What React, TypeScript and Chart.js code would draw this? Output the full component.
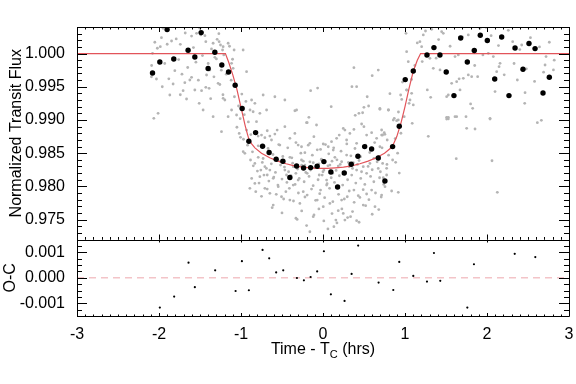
import { useEffect, useRef } from "react";
import { Chart, registerables } from "chart.js";

Chart.register(...registerables);

// ---- data ----
const binTime = [-2.079, -1.990, -1.901, -1.820, -1.645, -1.563, -1.486, -1.401, -1.319, -1.234, -1.152, -1.071, -0.986, -0.904, -0.822, -0.737, -0.657, -0.571, -0.489, -0.404, -0.322, -0.237, -0.151, -0.071, 0.011, 0.096, 0.178, 0.259, 0.344, 0.426, 0.508, 0.593, 0.674, 0.755, 0.849, 0.930, 1.003, 1.101, 1.268, 1.353, 1.426, 1.503, 1.597, 1.679, 1.760, 1.845, 1.918, 2.004, 2.094, 2.179, 2.268, 2.342, 2.439, 2.512, 2.586, 2.683, 2.760];
const binFlux = [0.99708, 0.99873, 1.00361, 0.99919, 1.00050, 0.99949, 1.00316, 0.99774, 1.00020, 0.99828, 0.99723, 0.99523, 0.99172, 0.98679, 0.98810, 0.98604, 0.98509, 0.98408, 0.98378, 0.98133, 0.98307, 0.98277, 0.98283, 0.98303, 0.98373, 0.98217, 0.97991, 0.98202, 0.98333, 0.98453, 0.98599, 0.98563, 0.98428, 0.98081, 0.98599, 0.98905, 0.99608, 0.99738, 0.99979, 1.00090, 0.99979, 0.99723, 0.99367, 1.00235, 0.99873, 1.00045, 1.00276, 1.00196, 0.99617, 1.00250, 0.99367, 1.00084, 0.99764, 1.00151, 1.00075, 0.99407, 0.99643];

const resTime = [-1.990, -1.815, -1.640, -1.563, -1.315, -1.066, -0.989, -0.904, -0.737, -0.656, -0.571, -0.485, -0.318, -0.233, -0.151, -0.071, 0.011, 0.096, 0.263, 0.349, 0.429, 0.678, 0.857, 0.930, 1.101, 1.268, 1.353, 1.430, 1.760, 1.841, 2.338, 2.589];
const resValue = [-0.00117, -0.00074, 0.00059, -0.00037, 0.00029, -0.00052, 0.00065, -0.00049, 0.00109, 0.00076, 0.00021, 0.00029, -0.00001, -0.00010, 0.00003, 0.00025, 0.00104, -0.00065, -0.00091, 0.00015, 0.00126, -0.00019, -0.00048, 0.00062, 0.00007, -0.00015, 0.00097, -0.00012, -0.00117, 0.00053, 0.00094, 0.00081];

const modelTime = [-3.0, -1.19, -1.15, -1.10, -1.05, -1.00, -0.95, -0.92, -0.90, -0.87, -0.83, -0.75, -0.65, -0.55, -0.45, -0.35, -0.25, -0.15, -0.05, 0.05, 0.15, 0.25, 0.35, 0.45, 0.55, 0.65, 0.75, 0.82, 0.86, 0.90, 0.95, 1.00, 1.05, 1.10, 1.15, 1.19, 3.0];
const modelFlux = [1.0, 1.0, 0.9987, 0.9968, 0.9946, 0.9919, 0.9892, 0.9878, 0.9870, 0.9864, 0.9858, 0.9850, 0.9843, 0.9838, 0.9834, 0.9831, 0.9829, 0.9828, 0.9827, 0.9827, 0.9828, 0.9829, 0.9831, 0.9834, 0.9838, 0.9843, 0.9850, 0.9857, 0.9864, 0.9875, 0.9895, 0.9920, 0.9948, 0.9973, 0.9990, 1.0, 1.0];

// unbinned photometry (grey points)
const rawTime = [
  -1.950, -2.051, -1.970, -1.984, -1.847, -1.740, -1.603, -1.542, -2.079, -2.092,
  -2.031, -1.807, -1.828, -1.868, -1.685, -1.603, -1.624, -1.706, -1.664, -1.563,
  -2.063, -2.011, -1.502, -1.490, -1.429, -1.340, -1.291, -1.267, -1.250, -1.218,
  -1.319, -1.225, -1.157, -1.103, -1.084, -0.974, -1.115, -1.096, -1.380, -1.420,
  -1.279, -1.258, -0.932, -1.429, -1.389, -1.481, -1.197, -1.218, -1.462, -1.340,
  -1.115, -1.157, -1.054, -0.871, -0.831, -0.730, -0.688, -0.587, -0.852, -0.770,
  -0.465, -0.322,
  0.377, 0.674, 0.600, -0.151, -0.066, 0.353, 0.410, 0.539, 0.816, -0.343,
  0.100, 0.499, 0.556, 0.694, 0.800, 0.438, 0.393, 0.483, -0.172, -0.193,
  -1.238, -1.022, -1.006, -0.973, -0.953, -0.932, -0.811, -0.791, -0.750, -0.709,
  -0.680, -0.648, -0.628, -0.587, -0.559, -0.526, -0.465, -0.404, -0.343, -0.303,
  -0.262, -0.221, -0.201, -0.160, -0.111, -0.079, -0.030, 0.003, 0.064, 0.104,
  0.125, 0.166, 0.198, 0.247, 0.267, 0.288, 0.328, 0.377, 0.410, 0.471,
  0.499, 0.532, 0.593, 0.654, 0.715, 0.747,
  -0.884, -0.831, -0.790, -0.758, -0.709, -0.680, -0.648, -0.607, -0.559, -0.518,
  -0.465, -0.445, -0.404, -0.363, -0.331, -0.303, -0.262, -0.221, -0.193, -0.152,
  -0.119, -0.087, -0.046, -0.017, 0.011, 0.044, 0.084, 0.117, 0.145, 0.186,
  0.227, 0.255, 0.288, 0.320, 0.369, 0.410, 0.458, 0.491, 0.532, 0.572,
  0.621, 0.674, 0.727, 0.776,
  -0.892, -0.831, -0.770, -0.709, -0.648, -0.607, -0.546, -0.506, -0.453, -0.404,
  -0.363, -0.315, -0.282, -0.241, -0.193, -0.160, -0.119, -0.070, -0.030, 0.003,
  0.044, 0.084, 0.133, 0.157, 0.186, 0.227, 0.247, 0.267, 0.296, 0.336,
  0.377, 0.410, 0.450, 0.491, 0.532, 0.593, 0.634, 0.715, 0.756,
  1.012, 1.223, 1.325, 1.447, 1.467, 1.182, 1.203, 1.020, 1.040, 1.304,
  1.345, 1.427, 1.610, 1.650, 1.772, 1.915, 1.988, 2.016, 2.077, 2.147,
  2.118, 2.159, 2.313, 2.423, 2.370, 2.708, 2.810, 2.720, 1.630, 1.569,
  1.711, 1.772, 1.813, 1.886, 1.272, 1.313, 1.508, 1.528, 1.671, 1.800,
  1.825, 1.744, 1.508, 1.528, 2.037, 2.098, 2.464, 0.869, 0.918, 0.796,
  0.694, 0.947, 1.061, 1.081, 1.020, 1.101, 1.610,
  0.857, 0.898, 0.715, 0.727, 0.755, 0.783, 0.694, 1.088, 1.284, 1.508,
  1.528, 1.630, 1.752, 1.854, 2.037, 2.614, 2.663, 1.625, 2.061, 0.849,
  0.886, 0.776, 0.930, 0.735, 0.837, 0.918, 2.126,
  -0.86, -0.79, -0.73, -0.67, -0.61, -0.54, -0.49, -0.43, -0.38, -0.33,
  -0.27, -0.24, -0.18, -0.13, -0.07, -0.02, 0.03, 0.07, 0.13, 0.17,
  0.22, 0.29, 0.34, 0.39, 0.44, 0.52, 0.57, 0.63, 0.68, 0.72, 0.80,
  -0.85, -0.80, -0.74, -0.69, -0.63, -0.58, -0.52, -0.47, -0.42, -0.37,
  -0.31, -0.26, -0.21, -0.16, -0.10, -0.05, 0.00, 0.06, 0.11, 0.16,
  0.21, 0.27, 0.31, 0.36, 0.42, 0.47, 0.55, 0.60, 0.66, 0.70, 0.78,
  -0.87, -0.78, -0.72, -0.66, -0.60, -0.55, -0.50, -0.44, -0.39, -0.34,
  -0.29, -0.23, -0.17, -0.12, -0.06, -0.01, 0.05, 0.10, 0.14, 0.20,
  0.24, 0.30, 0.35, 0.40, 0.46, 0.51, 0.58, 0.62, 0.69, 0.74,
  -0.82, -0.75, -0.68, -0.57, -0.48, -0.41, -0.36, -0.30, -0.22, -0.14,
  -0.09, -0.04, 0.02, 0.08, 0.12, 0.19, 0.26, 0.32, 0.38, 0.43,
  0.49, 0.56, 0.64, 0.71,
  -0.62, -0.50, -0.33, -0.26, -0.20, -0.11, -0.05, 0.01, 0.06, 0.11,
  0.17, 0.23, 0.30, 0.36, 0.44, 0.52, 0.60, 0.68,
  -1.08, -1.03, -0.99, -0.96, -0.94, -0.91, -1.01, -0.89, -0.97, -0.92, -0.88, -1.05,
  0.88, 0.92, 0.96, 0.99, 1.02, 1.05, 1.08, 0.95, 0.83, 1.12, 0.97, 0.91,
  -2.02, -1.93, -1.90, -1.88, -1.79, -1.76, -1.72, -1.68, -1.65, -1.58,
  -1.55, -1.52, -1.47, -1.44, -1.40, -1.36, -1.33, -1.30, -1.27, -1.24,
  -1.21, -1.18, -1.14, -1.12, -2.09, -1.96, -1.74, -1.51, -1.37, -1.22,
  1.15, 1.21, 1.25, 1.38, 1.41, 1.49, 1.55, 1.66, 1.70, 1.85,
  1.95, 2.05, 2.14, 2.21, 2.26, 2.33, 2.40, 2.48, 2.53, 2.58,
  2.64, 2.69, 2.76, 2.82, 2.46,
];
const rawFlux = [
  1.00380, 1.00170, 1.00239, 1.00103, 1.00189, 1.00139, 1.00264, 1.00305, 1.00004, 0.99651,
  0.99617, 0.99742, 0.99542, 0.99376, 0.99561, 0.99642, 0.99602, 0.99441, 0.99316, 0.99451,
  0.99025, 0.99100, 1.00380, 1.00280, 1.00179, 1.00155, 1.00215, 1.00179, 1.00129, 1.00103,
  0.99944, 1.00054, 1.00155, 0.99914, 1.00054, 1.00054, 0.99853, 0.99778, 0.99752, 0.99677,
  0.99552, 0.99534, 0.99727, 0.99492, 0.99477, 0.99441, 0.99301, 0.99326, 0.99150, 0.99049,
  0.99150, 0.99049, 0.99075, 0.99301, 0.99251, 0.99376, 0.99150, 0.99350, 0.99124, 0.99100,
  0.99301, 0.99150,
  0.99787, 0.99752, 0.99667, 0.99441, 0.99481, 0.99501, 0.99501, 0.99350, 0.99396, 0.99139,
  0.99200, 0.99191, 0.99210, 0.99161, 0.99150, 0.99100, 0.99070, 0.99109, 0.99040, 0.98959,
  0.98823, 0.98798, 0.98738, 0.98522, 0.98497, 0.98848, 0.98974, 0.98758, 0.98773, 0.98733,
  0.98838, 0.98758, 0.98698, 0.98788, 0.98848, 0.98622, 0.98899, 0.98723, 0.98798, 0.98622,
  0.98597, 0.98507, 0.98959, 0.98648, 0.98748, 0.98924, 0.98557, 0.98638, 0.98597, 0.98673,
  0.98547, 0.98723, 0.98773, 0.98873, 0.98848, 0.98698, 0.98798, 0.98858, 0.98648, 0.98939,
  0.98899, 0.98773, 0.98808, 0.98723, 0.98773, 0.98808,
  0.98397, 0.98346, 0.98437, 0.98246, 0.98296, 0.98171, 0.98246, 0.98121, 0.98397, 0.98321,
  0.98246, 0.98171, 0.98437, 0.98296, 0.98196, 0.98095, 0.98397, 0.98321, 0.98196, 0.98246,
  0.98356, 0.98296, 0.98171, 0.98397, 0.98246, 0.98095, 0.98321, 0.98196, 0.98437, 0.98306,
  0.98371, 0.98196, 0.98472, 0.98296, 0.98356, 0.98246, 0.98447, 0.98296, 0.98196, 0.98346,
  0.98422, 0.98271, 0.98346, 0.98171,
  0.97970, 0.98045, 0.98146, 0.97970, 0.97895, 0.97719, 0.97995, 0.97844, 0.97920, 0.97794,
  0.98020, 0.97503, 0.97744, 0.97920, 0.97869, 0.97317, 0.97543, 0.97794, 0.97945, 0.97694,
  0.98020, 0.97744, 0.97393, 0.97493, 0.97634, 0.97794, 0.97593, 0.97493, 0.97844, 0.97543,
  0.97945, 0.97483, 0.97834, 0.97719, 0.97885, 0.97945, 0.97694, 0.97869, 0.97995,
  1.00305, 1.00280, 1.00365, 1.00330, 1.00305, 1.00179, 1.00104, 1.00029, 0.99878, 0.99929,
  0.99778, 0.99753, 0.99954, 0.99979, 1.00280, 1.00380, 1.00395, 1.00004, 0.99954, 0.99803,
  0.99728, 0.99853, 1.00179, 1.00129, 0.99602, 0.99828, 0.99753, 0.99954, 0.99577, 0.99552,
  0.99627, 0.99678, 0.99652, 0.99652, 0.99452, 0.99341, 0.99351, 0.99376, 0.99452, 0.99241,
  0.99175, 0.99050, 0.99040, 0.99015, 0.99025, 0.99427, 0.99411, 0.99025, 0.99000, 0.99150,
  0.99176, 0.99376, 0.99301, 0.99401, 0.99452, 0.99226, 0.99050,
  0.98999, 0.98989, 0.98849, 0.98774, 0.98784, 0.98698, 0.98597, 0.98950, 0.98754, 0.99014,
  0.99040, 0.99049, 0.98874, 0.98864, 0.99014, 0.98959, 0.98995, 0.98417, 0.98386, 0.98397,
  0.98362, 0.98272, 0.98201, 0.98130, 0.97930, 0.97911, 0.97911,
  0.9852, 0.9861, 0.9842, 0.9857, 0.9848, 0.9863, 0.9845, 0.9858, 0.9843, 0.9866,
  0.9850, 0.9838, 0.9862, 0.9847, 0.9855, 0.9841, 0.9863, 0.9849, 0.9858, 0.9840,
  0.9853, 0.9864, 0.9846, 0.9857, 0.9839, 0.9862, 0.9851, 0.9866, 0.9845, 0.9858, 0.9847,
  0.9831, 0.9823, 0.9836, 0.9827, 0.9834, 0.9821, 0.9838, 0.9829, 0.9822, 0.9835,
  0.9826, 0.9832, 0.9821, 0.9837, 0.9828, 0.9834, 0.9822, 0.9831, 0.9838, 0.9824,
  0.9833, 0.9821, 0.9836, 0.9827, 0.9833, 0.9822, 0.9830, 0.9825, 0.9837, 0.9822, 0.9833,
  0.9812, 0.9805, 0.9817, 0.9808, 0.9814, 0.9802, 0.9811, 0.9806, 0.9816, 0.9803,
  0.9812, 0.9807, 0.9815, 0.9801, 0.9810, 0.9817, 0.9804, 0.9813, 0.9806, 0.9816,
  0.9802, 0.9810, 0.9817, 0.9805, 0.9812, 0.9803, 0.9815, 0.9807, 0.9813, 0.9803,
  0.9792, 0.9785, 0.9796, 0.9788, 0.9781, 0.9797, 0.9778, 0.9790, 0.9784, 0.9796,
  0.9779, 0.9789, 0.9783, 0.9797, 0.9777, 0.9788, 0.9781, 0.9793, 0.9776, 0.9786,
  0.9795, 0.9780, 0.9790, 0.9784,
  0.9768, 0.9760, 0.9752, 0.9763, 0.9741, 0.9757, 0.9766, 0.9748, 0.9736, 0.9759,
  0.9745, 0.9766, 0.9753, 0.9762, 0.9746, 0.9771, 0.9758, 0.9765,
  0.9935, 0.9921, 0.9939, 0.9908, 0.9928, 0.9897, 0.9902, 0.9915, 0.9871, 0.9862, 0.9878, 0.9889,
  0.9872, 0.9912, 0.9931, 0.9905, 0.9945, 0.9925, 0.9961, 0.9880, 0.9858, 0.9982, 0.9957, 0.9850,
  1.0008, 0.9985, 1.0014, 0.9962, 1.0022, 0.9991, 0.9969, 1.0031, 0.9979, 1.0009,
  0.9987, 0.9960, 0.9997, 1.0027, 0.9985, 1.0007, 0.9965, 0.9992, 1.0030, 0.9975,
  0.9998, 0.9969, 1.0011, 0.9960, 0.9982, 0.9950, 0.9938, 0.9925, 0.9932, 0.9938,
  1.0016, 0.9988, 1.0034, 0.9993, 1.0021, 0.9972, 1.0011, 0.9962, 1.0025, 0.9982,
  0.9998, 1.0027, 1.0012, 0.9968, 1.0035, 0.9985, 1.0006, 0.9977, 1.0024, 0.9958,
  1.0010, 0.9972, 1.0017, 0.9990, 0.9925,
];

const zeroLineTime = [-3, 3];
const zeroLineValue = [0, 0];

const xTickValues = [-3, -2, -1, 0, 1, 2, 3];
const fluxTickValues = [0.975, 0.98, 0.985, 0.99, 0.995, 1.0];
const ocTickValues = [-0.001, 0, 0.001];

const FLUX_MIN = 0.972;
const FLUX_MAX = 1.004;
const OC_MIN = -0.0015;
const OC_MAX = 0.0015;

const FONT = "'Liberation Sans', Arial, Helvetica, sans-serif";

const pts = (xs: number[], ys: number[]) => xs.map((x, i) => ({ x, y: ys[i] }));

const framePlugin = {
  id: "idlFrame",
  afterDraw(chart: any) {
    const ctx: CanvasRenderingContext2D = chart.ctx;
    const xs = chart.scales.x;
    const yt = chart.scales.y;
    const yb = chart.scales.y2;
    const left = xs.left;
    const right = xs.right;
    const snap = (v: number) => Math.round(v) + 0.5;
    ctx.save();
    ctx.strokeStyle = "#000";
    ctx.lineWidth = 1;

    const panels = [
      { s: yt, xMaj: 5, xMin: 2.5, yFrom: 972, yTo: 1004, yDiv: 1000, yMajEvery: 5 },
      { s: yb, xMaj: 3, xMin: 1.5, yFrom: -6, yTo: 6, yDiv: 4000, yMajEvery: 4 },
    ];
    for (const p of panels) {
      const top = p.s.top;
      const bottom = p.s.bottom;
      ctx.beginPath();
      ctx.rect(snap(left), snap(top), Math.round(right) - Math.round(left), Math.round(bottom) - Math.round(top));
      ctx.stroke();
      ctx.beginPath();
      for (let i = -30; i <= 30; i++) {
        const px = snap(xs.getPixelForValue(i / 10));
        const len = i % 10 === 0 ? p.xMaj : p.xMin;
        ctx.moveTo(px, top);
        ctx.lineTo(px, top + len);
        ctx.moveTo(px, bottom);
        ctx.lineTo(px, bottom - len);
      }
      for (let j = p.yFrom; j <= p.yTo; j++) {
        const py = snap(p.s.getPixelForValue(j / p.yDiv));
        const len = j % p.yMajEvery === 0 ? 10 : 5;
        ctx.moveTo(left, py);
        ctx.lineTo(left + len, py);
        ctx.moveTo(right, py);
        ctx.lineTo(right - len, py);
      }
      ctx.stroke();
    }

    // axis titles
    ctx.fillStyle = "#000";
    ctx.textBaseline = "alphabetic";
    const partA = "Time - T";
    const partB = "C";
    const partC = " (hrs)";
    ctx.font = `16px ${FONT}`;
    const wA = ctx.measureText(partA).width;
    const wC = ctx.measureText(partC).width;
    ctx.font = `11px ${FONT}`;
    const wB = ctx.measureText(partB).width;
    const total = wA + wB + wC;
    const cx = (left + right) / 2;
    const base = 353.5;
    let xx = cx - total / 2;
    ctx.textAlign = "left";
    ctx.font = `16px ${FONT}`;
    ctx.fillText(partA, xx, base);
    xx += wA;
    ctx.font = `11px ${FONT}`;
    ctx.fillText(partB, xx, base + 4);
    xx += wB;
    ctx.font = `16px ${FONT}`;
    ctx.fillText(partC, xx, base);

    ctx.textAlign = "center";
    ctx.textBaseline = "middle";
    ctx.save();
    ctx.translate(17, (yt.top + yt.bottom) / 2);
    ctx.rotate(-Math.PI / 2);
    ctx.fillText("Normalized Transit Flux", 0, 0);
    ctx.restore();
    ctx.save();
    ctx.translate(11, (yb.top + yb.bottom) / 2);
    ctx.rotate(-Math.PI / 2);
    ctx.fillText("O-C", 0, 0);
    ctx.restore();

    ctx.restore();
  },
};

export default function App() {
  const ref = useRef<HTMLCanvasElement | null>(null);
  useEffect(() => {
    if (!ref.current) return;
    const tickFont = { family: FONT, size: 16 };
    const chart = new Chart(ref.current, {
      type: "scatter",
      data: {
        datasets: [
          {
            type: "scatter",
            data: pts(rawTime, rawFlux),
            yAxisID: "y",
            pointRadius: 1.4,
            pointBackgroundColor: "#b4b4b4",
            pointBorderWidth: 0,
            order: 5,
          } as any,
          {
            type: "line",
            data: pts(modelTime, modelFlux),
            yAxisID: "y",
            borderColor: "#e2545a",
            borderWidth: 1.2,
            pointRadius: 0,
            tension: 0,
            fill: false,
            order: 4,
          } as any,
          {
            type: "line",
            data: pts(zeroLineTime, zeroLineValue),
            yAxisID: "y2",
            borderColor: "#f3c4c8",
            borderWidth: 1.6,
            borderDash: [7, 5],
            pointRadius: 0,
            fill: false,
            order: 3,
          } as any,
          {
            type: "scatter",
            data: pts(binTime, binFlux),
            yAxisID: "y",
            pointRadius: 2.7,
            pointBackgroundColor: "#000",
            pointBorderWidth: 0,
            order: 1,
          } as any,
          {
            type: "scatter",
            data: pts(resTime, resValue),
            yAxisID: "y2",
            pointRadius: 1.1,
            pointBackgroundColor: "#000",
            pointBorderWidth: 0,
            order: 1,
          } as any,
        ],
      },
      options: {
        responsive: false,
        animation: false,
        devicePixelRatio: 1,
        layout: { padding: { top: 27, right: 7, left: 0, bottom: 0 } },
        plugins: { legend: { display: false }, tooltip: { enabled: false } },
        scales: {
          x: {
            type: "linear",
            position: "bottom",
            min: -3,
            max: 3,
            grid: { display: false },
            border: { display: false },
            ticks: { font: tickFont, color: "#000", padding: 1, maxRotation: 0 },
            afterBuildTicks: (s: any) => {
              s.ticks = xTickValues.map((v) => ({ value: v }));
            },
            afterFit: (s: any) => {
              s.height = 68;
            },
          },
          y2: {
            type: "linear",
            position: "left",
            stack: "panels",
            stackWeight: 76.5,
            min: OC_MIN,
            max: OC_MAX,
            grid: { display: false },
            border: { display: false },
            ticks: {
              font: tickFont,
              color: "#000",
              padding: 4,
              callback: (v: any) => Number(v).toFixed(3),
            },
            afterBuildTicks: (s: any) => {
              s.ticks = ocTickValues.map((v) => ({ value: v }));
            },
            afterFit: (s: any) => {
              s.width = 77;
            },
          },
          y: {
            type: "linear",
            position: "left",
            stack: "panels",
            stackWeight: 212.5,
            min: FLUX_MIN,
            max: FLUX_MAX,
            grid: { display: false },
            border: { display: false },
            ticks: {
              font: tickFont,
              color: "#000",
              padding: 4,
              callback: (v: any) => Number(v).toFixed(3),
            },
            afterBuildTicks: (s: any) => {
              s.ticks = fluxTickValues.map((v) => ({ value: v }));
            },
            afterFit: (s: any) => {
              s.width = 77;
            },
          },
        } as any,
      },
      plugins: [framePlugin],
    } as any);
    return () => chart.destroy();
  }, []);
  return (
    <div style={{ position: "fixed", left: 0, top: 0, width: 576, height: 384, background: "#fff" }}>
      <canvas ref={ref} width={576} height={384} style={{ width: 576, height: 384, display: "block" }} />
    </div>
  );
}
